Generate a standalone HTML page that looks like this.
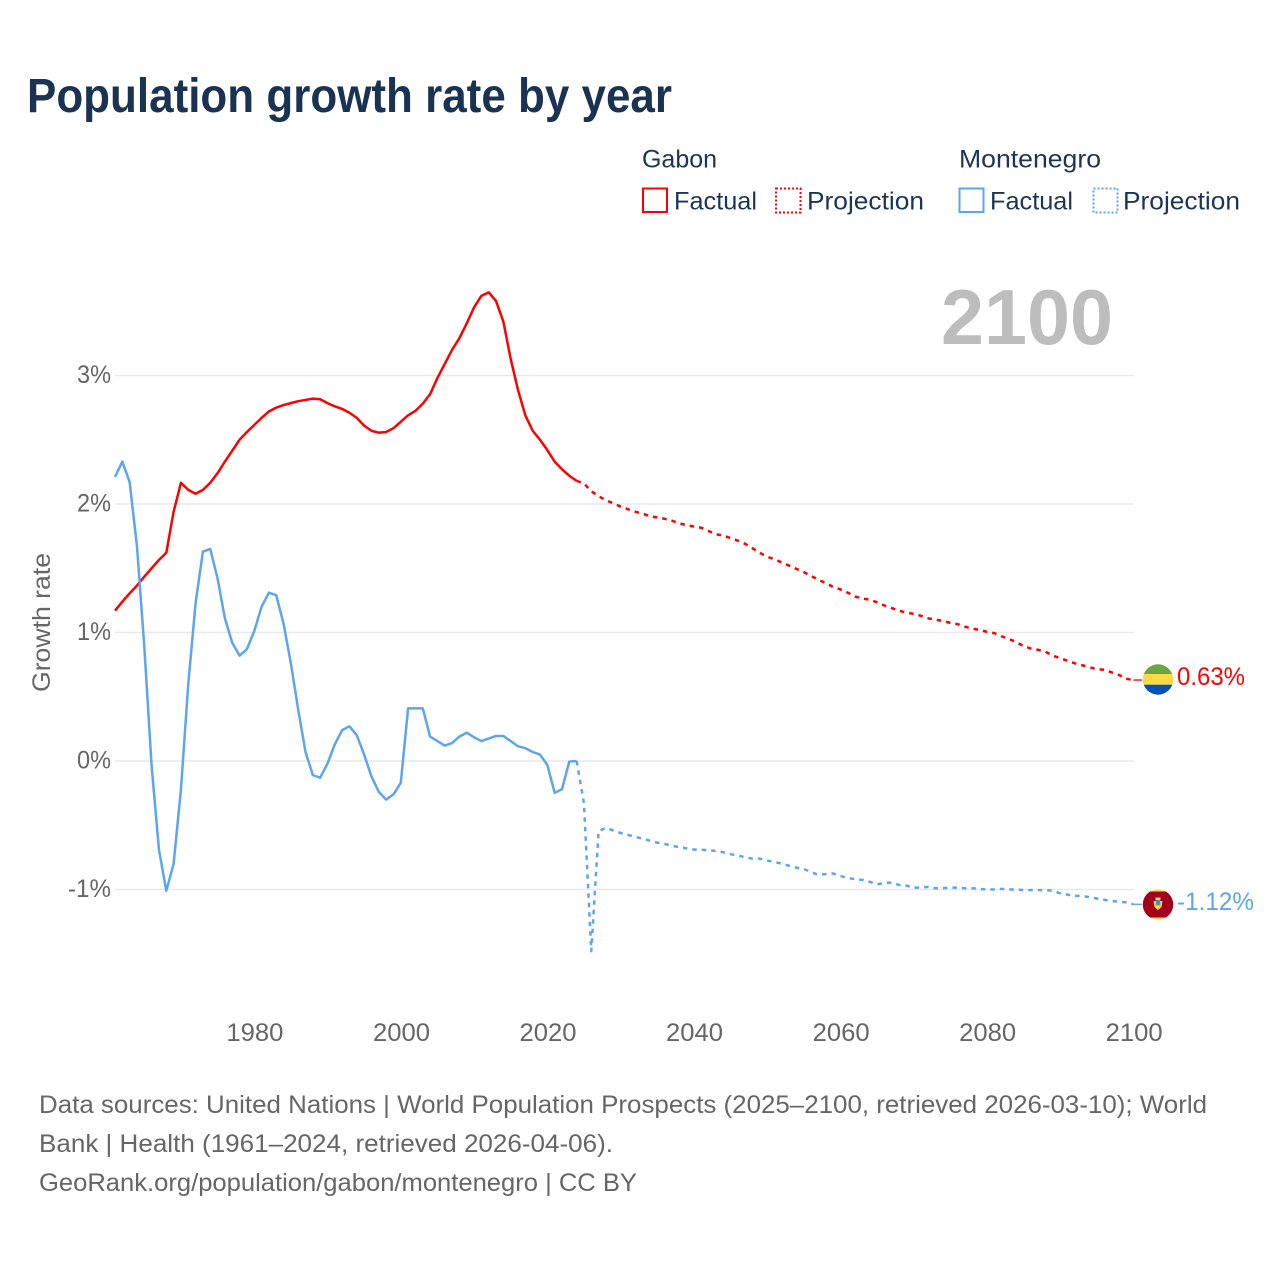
<!DOCTYPE html>
<html lang="en">
<head>
<meta charset="utf-8">
<title>Population growth rate by year</title>
<style>
html,body{margin:0;padding:0;background:#fff;}
svg{display:block;font-family:"Liberation Sans",sans-serif;}
</style>
</head>
<body>
<svg id="chart" xmlns="http://www.w3.org/2000/svg" width="1280" height="1280" viewBox="0 0 1280 1280">
  <defs>
    <clipPath id="flag-clip-gabon"><circle cx="1158" cy="679.5" r="15.2"/></clipPath>
    <clipPath id="flag-clip-montenegro"><circle cx="1158" cy="904.5" r="15.2"/></clipPath>
  </defs>
  <rect x="0" y="0" width="1280" height="1280" fill="#fff"/>

  <text x="27" y="112" font-size="48" font-weight="700" fill="#1a3353" textLength="645" lengthAdjust="spacingAndGlyphs">Population growth rate by year</text>

  <g font-size="25" fill="#1c3557">
    <text x="642" y="167.5" textLength="75" lengthAdjust="spacingAndGlyphs">Gabon</text>
    <text x="959" y="167.5" textLength="142" lengthAdjust="spacingAndGlyphs">Montenegro</text>
    <rect x="643" y="188.5" width="24" height="23.5" fill="none" stroke="#ff0000" stroke-width="2"/>
    <text x="674" y="209.5" textLength="83" lengthAdjust="spacingAndGlyphs">Factual</text>
    <rect x="776" y="188.5" width="24.5" height="24" fill="none" stroke="#ff0000" stroke-width="2" stroke-dasharray="2,2"/>
    <text x="807" y="209.5" textLength="117" lengthAdjust="spacingAndGlyphs">Projection</text>
    <rect x="959.5" y="188.5" width="24" height="23.5" fill="none" stroke="#5da5ed" stroke-width="2"/>
    <text x="990" y="209.5" textLength="83" lengthAdjust="spacingAndGlyphs">Factual</text>
    <rect x="1093.5" y="188.5" width="24" height="24" fill="none" stroke="#5da5ed" stroke-width="2" stroke-dasharray="2,2"/>
    <text x="1123" y="209.5" textLength="117" lengthAdjust="spacingAndGlyphs">Projection</text>
  </g>

  <text transform="translate(50,622.5) rotate(-90)" text-anchor="middle" font-size="25" fill="#666" textLength="139" lengthAdjust="spacingAndGlyphs">Growth rate</text>

  <g id="grid"></g>
  <g id="yticks"></g>
  <g id="xticks"></g>

  <text x="1113" y="344" text-anchor="end" font-size="78" font-weight="700" fill="#bdbdbd" textLength="172" lengthAdjust="spacingAndGlyphs">2100</text>

  <g id="series"></g>

  <g clip-path="url(#flag-clip-gabon)">
    <rect x="1140" y="662" width="36" height="12" fill="#6da544"/>
    <rect x="1140" y="674" width="36" height="10.7" fill="#ffda44"/>
    <rect x="1140" y="684.7" width="36" height="13" fill="#0052b4"/>
  </g>
  <text x="1177" y="685" font-size="25" fill="#ff0000" textLength="68" lengthAdjust="spacingAndGlyphs">0.63%</text>

  <g clip-path="url(#flag-clip-montenegro)">
    <rect x="1140" y="886" width="36" height="38" fill="#ffda44"/>
    <rect x="1140" y="891.5" width="36" height="26" fill="#a2001d"/>
    <path d="M1153.5 901h9l-1 6-3.5 3-3.5-3z" fill="#ffda44"/>
    <rect x="1155.8" y="900" width="4.4" height="5" fill="#338af3"/>
    <rect x="1155.8" y="903.5" width="4.4" height="2" fill="#6da544"/>
    <rect x="1155.5" y="897.5" width="5" height="2.5" fill="#ffda44"/>
  </g>
  <text x="1177" y="910" font-size="25" fill="#5da5ed" textLength="77" lengthAdjust="spacingAndGlyphs">-1.12%</text>

  <g font-size="25" fill="#666">
    <text x="39" y="1113" textLength="1168" lengthAdjust="spacingAndGlyphs">Data sources: United Nations | World Population Prospects (2025–2100, retrieved 2026-03-10); World</text>
    <text x="39" y="1152" textLength="574" lengthAdjust="spacingAndGlyphs">Bank | Health (1961–2024, retrieved 2026-04-06).</text>
    <text x="39" y="1191" textLength="598" lengthAdjust="spacingAndGlyphs">GeoRank.org/population/gabon/montenegro | CC BY</text>
  </g>
</svg>

<script>
const factualYears = [1961,1962,1963,1964,1965,1966,1967,1968,1969,1970,1971,1972,1973,1974,1975,1976,1977,1978,1979,1980,1981,1982,1983,1984,1985,1986,1987,1988,1989,1990,1991,1992,1993,1994,1995,1996,1997,1998,1999,2000,2001,2002,2003,2004,2005,2006,2007,2008,2009,2010,2011,2012,2013,2014,2015,2016,2017,2018,2019,2020,2021,2022,2023,2024];
const projectionYears = [2024,2025,2026,2027,2028,2029,2030,2031,2032,2033,2034,2035,2036,2037,2038,2039,2040,2041,2042,2043,2044,2045,2046,2047,2048,2049,2050,2051,2052,2053,2054,2055,2056,2057,2058,2059,2060,2061,2062,2063,2064,2065,2066,2067,2068,2069,2070,2071,2072,2073,2074,2075,2076,2077,2078,2079,2080,2081,2082,2083,2084,2085,2086,2087,2088,2089,2090,2091,2092,2093,2094,2095,2096,2097,2098,2099,2100];

const gabonFactual = [1.17,1.24,1.305,1.365,1.435,1.50,1.565,1.62,1.94,2.165,
  2.11,2.08,2.11,2.165,2.24,2.33,2.415,2.50,2.56,2.615,
  2.67,2.72,2.75,2.77,2.785,2.80,2.81,2.82,2.815,2.785,
  2.76,2.74,2.71,2.67,2.61,2.57,2.555,2.56,2.59,2.64,
  2.69,2.725,2.78,2.855,2.98,3.09,3.20,3.29,3.405,3.53,
  3.62,3.647,3.58,3.42,3.13,2.887,2.69,2.57,2.50,2.42,
  2.33,2.27,2.22,2.18];

const gabonProjection = [2.18,2.16,2.10,2.06,2.03,2.005,1.98,1.96,1.94,1.925,1.905,1.895,1.885,1.87,1.85,1.835,1.825,1.815,1.79,1.765,1.755,1.735,1.715,1.69,1.655,1.62,1.59,1.57,1.545,1.52,1.495,1.47,1.44,1.41,1.385,1.355,1.335,1.31,1.28,1.265,1.255,1.235,1.21,1.19,1.17,1.155,1.145,1.13,1.11,1.10,1.09,1.075,1.065,1.045,1.03,1.02,1.005,0.995,0.97,0.95,0.925,0.895,0.875,0.865,0.85,0.82,0.80,0.78,0.76,0.745,0.73,0.715,0.71,0.69,0.67,0.64,0.63];

const montenegroFactual = [2.21,2.33,2.17,1.67,0.89,-0.04,-0.69,-1.01,-0.80,-0.22,
  0.60,1.23,1.63,1.65,1.42,1.11,0.92,0.82,0.87,1.01,
  1.20,1.31,1.29,1.07,0.76,0.40,0.07,-0.11,-0.13,-0.02,
  0.13,0.24,0.27,0.20,0.05,-0.12,-0.24,-0.30,-0.26,-0.17,
  0.41,0.41,0.41,0.19,0.155,0.12,0.14,0.19,0.22,0.185,
  0.155,0.175,0.195,0.195,0.155,0.115,0.10,0.07,0.05,-0.03,
  -0.247,-0.22,-0.005,0.0];

const montenegroProjection = [0.0,-0.33,-1.48,-0.545,-0.52,-0.54,-0.56,-0.575,-0.59,-0.605,-0.62,-0.635,-0.645,-0.66,-0.67,-0.68,-0.69,-0.69,-0.695,-0.70,-0.71,-0.725,-0.735,-0.75,-0.76,-0.76,-0.775,-0.785,-0.80,-0.815,-0.83,-0.84,-0.865,-0.885,-0.88,-0.875,-0.895,-0.91,-0.92,-0.925,-0.94,-0.96,-0.95,-0.945,-0.965,-0.97,-0.985,-0.985,-0.98,-0.99,-0.99,-0.985,-0.985,-0.99,-0.99,-0.995,-1.0,-1.0,-0.995,-1.0,-1.0,-1.005,-1.005,-1.005,-1.005,-1.01,-1.03,-1.04,-1.05,-1.05,-1.06,-1.07,-1.08,-1.09,-1.095,-1.10,-1.115];

const xTickYears = [1980,2000,2020,2040,2060,2080,2100];
const yTickValues = [3,2,1,0,-1];
const yTickLabels = ['3%','2%','1%','0%','-1%'];

const NS = 'http://www.w3.org/2000/svg';
function xScale(year){ return 115 + (year - 1961) * (1133.5 - 115) / (2100 - 1961); }
function yScale(v){ return 761 - v * 128.5; }
function linePath(years, values){
  return years.map(function(y, i){ return (i ? 'L' : 'M') + xScale(y).toFixed(2) + ' ' + yScale(values[i]).toFixed(2); }).join('');
}

const grid = document.getElementById('grid');
const yticks = document.getElementById('yticks');
yTickValues.forEach(function(v, i){
  const ln = document.createElementNS(NS, 'line');
  
  
  ln.setAttribute('x1', 115);
  ln.setAttribute('x2', 1133.5);
  ln.setAttribute('y1', yScale(v));
  ln.setAttribute('y2', yScale(v));
  ln.setAttribute('stroke', '#e9e9e9');
  ln.setAttribute('stroke-width', '1.5');
  grid.appendChild(ln);

  const t = document.createElementNS(NS, 'text');
  
  
  t.setAttribute('x', 111);
  t.setAttribute('y', yScale(v) + 7.5);
  t.setAttribute('text-anchor', 'end');
  t.setAttribute('font-size', '25');
  t.setAttribute('fill', '#666');
  t.setAttribute('textLength', yTickLabels[i].length > 2 ? 43 : 34);
  t.setAttribute('lengthAdjust', 'spacingAndGlyphs');
  t.textContent = yTickLabels[i];
  yticks.appendChild(t);
});

const xticks = document.getElementById('xticks');
xTickYears.forEach(function(year){
  const t = document.createElementNS(NS, 'text');
  
  
  t.setAttribute('x', xScale(year) + 0.7);
  t.setAttribute('y', 1041);
  t.setAttribute('text-anchor', 'middle');
  t.setAttribute('font-size', '25');
  t.setAttribute('fill', '#666');
  t.setAttribute('textLength', 57);
  t.setAttribute('lengthAdjust', 'spacingAndGlyphs');
  t.textContent = String(year);
  xticks.appendChild(t);
});

const series = document.getElementById('series');
function addLine(name, years, values, color, dash){
  const p = document.createElementNS(NS, 'path');
  
  
  p.setAttribute('d', linePath(years, values));
  p.setAttribute('fill', 'none');
  p.setAttribute('stroke', color);
  p.setAttribute('stroke-width', '2.5');
  p.setAttribute('stroke-linejoin', 'round');
  if (dash) p.setAttribute('stroke-dasharray', dash);
  series.appendChild(p);
}
addLine('line-gabon-factual', factualYears, gabonFactual, '#ff0000', null);
addLine('line-gabon-projection', projectionYears, gabonProjection, '#ff0000', '4.5,5');
addLine('line-montenegro-factual', factualYears, montenegroFactual, '#5da5ed', null);
addLine('line-montenegro-projection', projectionYears, montenegroProjection, '#5da5ed', '4.5,5');

function addConnector(name, value, color){
  const ln = document.createElementNS(NS, 'line');
  
  
  ln.setAttribute('x1', xScale(2100));
  ln.setAttribute('x2', 1142);
  ln.setAttribute('y1', yScale(value));
  ln.setAttribute('y2', yScale(value));
  ln.setAttribute('stroke', color);
  ln.setAttribute('stroke-width', '1.3');
  series.appendChild(ln);
}
addConnector('connector-gabon', gabonProjection[gabonProjection.length - 1], '#ff0000');
addConnector('connector-montenegro', montenegroProjection[montenegroProjection.length - 1], '#5da5ed');
</script>
</body>
</html>
